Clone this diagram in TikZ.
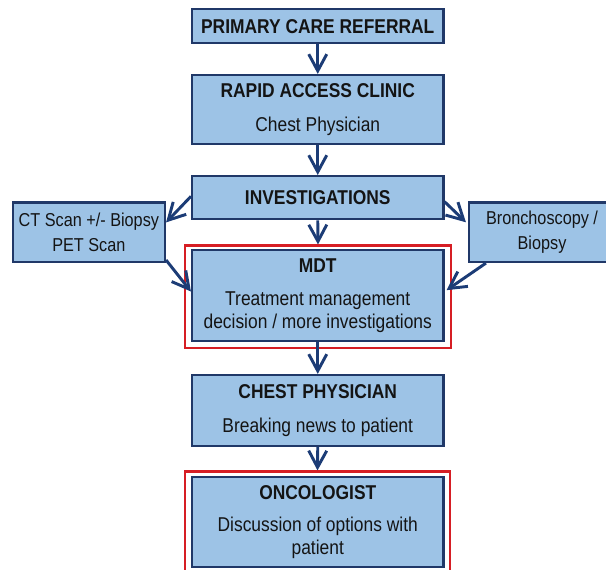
\documentclass[tikz,border=0pt]{standalone}
\usepackage{fontspec}
\setmainfont{Liberation Sans}[FakeStretch=0.87]
\usetikzlibrary{arrows.meta}
\definecolor{boxfill}{RGB}{157,195,230}
\definecolor{boxline}{RGB}{32,56,104}
\definecolor{arrowc}{RGB}{28,60,118}
\definecolor{redline}{RGB}{214,30,36}
\definecolor{txt}{RGB}{20,20,20}
\tikzset{
  box/.style={draw=boxline, fill=boxfill, line width=1.6pt, text=txt,
    align=center, inner sep=0pt, font=\fontsize{15}{17}\selectfont},
  mainbox/.style={box, minimum width=251.5*0.75pt},
  sidebox/.style={box, font=\fontsize{14}{18.5}\selectfont},
  redbox/.style={draw=redline, line width=1.6pt, inner sep=0pt},
  arr/.style={draw=arrowc, line width=2.2pt, -{Straight Barb[length=12.5pt,width=13.5pt,line width=2.2pt]}}
}
\begin{document}
\begin{tikzpicture}[x=0.75pt,y=-0.75pt]
\useasboundingbox (0,0) rectangle (606,570);
% red frames
\node[redbox, minimum width=266*0.75pt, minimum height=102.5*0.75pt] (redmdt) at (318,296.75) {};
\node[redbox, minimum width=265*0.75pt, minimum height=119*0.75pt] (redonc) at (317.5,531) {};
% main boxes
\node[mainbox, minimum height=34*0.75pt] (pcr) at (317.75,26.3) {\textbf{PRIMARY CARE REFERRAL}};
\node[mainbox, minimum height=69*0.75pt] (rac) at (317.75,109.5) {\textbf{RAPID ACCESS CLINIC}\\[8pt]Chest Physician};
\node[mainbox, minimum height=43.3*0.75pt] (inv) at (317.75,197.7) {\textbf{INVESTIGATIONS}};
\node[mainbox, minimum height=91*0.75pt] (mdt) at (317.75,295.5) {\textbf{MDT}\\[8pt]Treatment management\\decision / more investigations};
\node[mainbox, minimum height=71*0.75pt] (chp) at (317.75,410.5) {\textbf{CHEST PHYSICIAN}\\[8pt]Breaking news to patient};
\node[mainbox, minimum height=90*0.75pt] (onc) at (317.75,522) {\textbf{ONCOLOGIST}\\[7pt]Discussion of options with\\patient};
% side boxes
\node[sidebox, minimum width=152.3*0.75pt, minimum height=59.8*0.75pt] (ct) at (88.85,232.4) {CT Scan +/- Biopsy\\PET Scan};
\node[sidebox, minimum width=146*0.75pt, minimum height=59.5*0.75pt] (bro) at (542,232.3) {Bronchoscopy /\\Biopsy};
% arrows
\draw[arr] (pcr.south) -- (rac.north);
\draw[arr] (rac.south) -- (inv.north);
\draw[arr] (inv.south) -- (redmdt.north);
\draw[arr] (mdt.south) -- (chp.north);
\draw[arr] (chp.south) -- (redonc.north);
\draw[arr] ([yshift=1pt]inv.west) -- ([yshift=7.5pt]ct.east);
\draw[arr] ([yshift=-3pt]inv.east) -- ([xshift=-1.5pt,yshift=7.5pt]bro.west);
\draw[arr] ([yshift=2.5pt]ct.south east) -- ([yshift=3pt]mdt.west);
\draw[arr] ([xshift=13.5pt]bro.south west) -- ([xshift=1.5pt,yshift=4pt]mdt.east);
\end{tikzpicture}
\end{document}
